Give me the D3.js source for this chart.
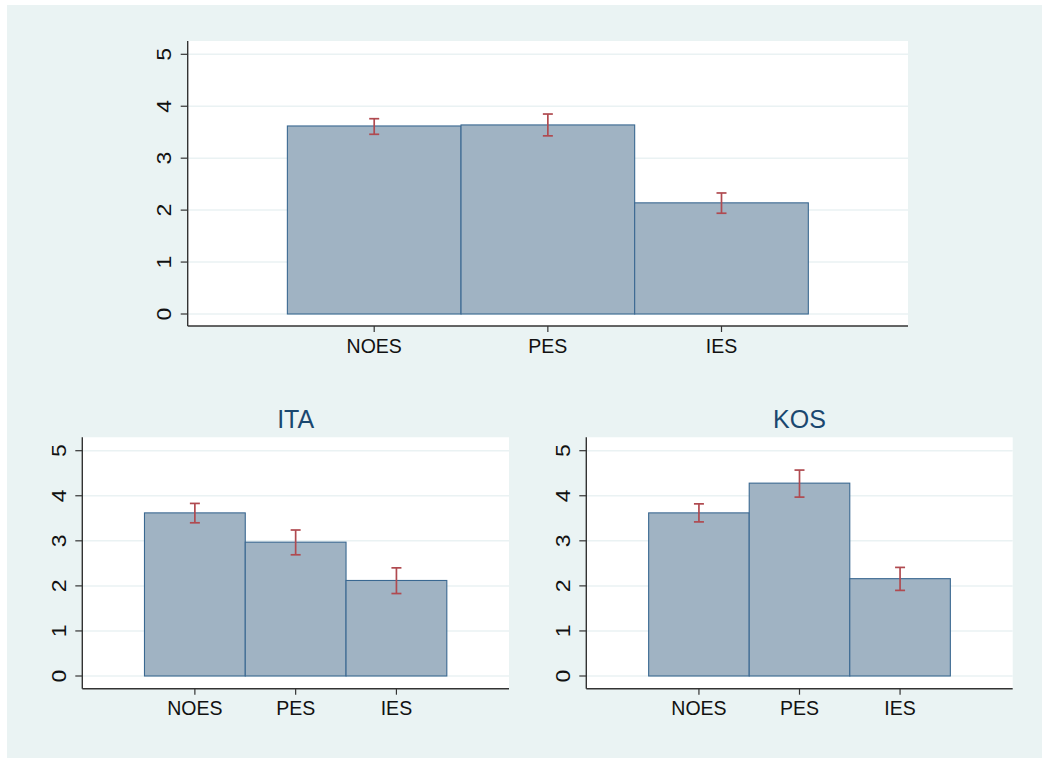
<!DOCTYPE html>
<html>
<head>
<meta charset="utf-8">
<script src="https://cdn.jsdelivr.net/npm/d3@7"></script>
<style>
  html, body { margin: 0; padding: 0; background: #ffffff; }
  svg { display: block; }
  text { font-family: "Liberation Sans", Arial, Helvetica, sans-serif; }
</style>
</head>
<body>
<svg id="chart" width="1042" height="759"></svg>
<script>
// Exposure categories on the x axis
const categories = ["NOES", "PES", "IES"];
const yTicks = [0, 1, 2, 3, 4, 5];

// Pooled sample: mean and 95% CI bounds
const pooledMean = [3.62, 3.64, 2.14];
const pooledLow  = [3.46, 3.43, 1.94];
const pooledHigh = [3.76, 3.85, 2.33];

// Italy
const itaMean = [3.62, 2.97, 2.12];
const itaLow  = [3.40, 2.69, 1.83];
const itaHigh = [3.83, 3.24, 2.40];

// Kosovo
const kosMean = [3.62, 4.28, 2.16];
const kosLow  = [3.42, 3.97, 1.90];
const kosHigh = [3.82, 4.57, 2.41];

const svg = d3.select("#chart");

// graph region background
svg.append("rect").attr("x", 7).attr("y", 5).attr("width", 1035).attr("height", 753)
  .attr("fill", "#eaf3f3");

const panels = [
  { title: null, mean: pooledMean, low: pooledLow, high: pooledHigh,
    left: 187.7, right: 908, top: 41, bottom: 326, y0: 314, y5: 54.3, pad: 0.574 },
  { title: "ITA", mean: itaMean, low: itaLow, high: itaHigh,
    left: 82.3, right: 509, top: 437.3, bottom: 688.7, y0: 676, y5: 450.7, pad: 0.617 },
  { title: "KOS", mean: kosMean, low: kosLow, high: kosHigh,
    left: 586.3, right: 1012.7, top: 437.3, bottom: 688.7, y0: 676, y5: 450.7, pad: 0.62 }
];

panels.forEach(p => {
  const g = svg.append("g");
  const x = d3.scaleBand().domain(categories).range([p.left, p.right])
    .paddingInner(0).paddingOuter(p.pad);
  const y = d3.scaleLinear().domain([0, 5]).range([p.y0, p.y5]);

  // plot region
  g.append("rect").attr("x", p.left).attr("y", p.top)
    .attr("width", p.right - p.left).attr("height", p.bottom - p.top)
    .attr("fill", "#ffffff");

  // horizontal grid lines
  g.selectAll(".grid").data(yTicks).join("line")
    .attr("x1", p.left).attr("x2", p.right)
    .attr("y1", d => y(d)).attr("y2", d => y(d))
    .attr("stroke", "#eaf2f3").attr("stroke-width", 1.5);

  const rows = categories.map((c, i) => ({ c, m: p.mean[i], lo: p.low[i], hi: p.high[i] }));

  // bars
  g.selectAll(".bar").data(rows).join("rect")
    .attr("x", d => x(d.c)).attr("width", x.bandwidth())
    .attr("y", d => y(d.m)).attr("height", d => y(0) - y(d.m))
    .attr("fill", "#a0b3c3").attr("stroke", "#3a6891").attr("stroke-width", 1.1);

  // confidence intervals
  const ci = g.selectAll(".ci").data(rows).join("g")
    .attr("stroke", "#b04a50").attr("stroke-width", 1.7).attr("fill", "none");
  const cx = d => x(d.c) + x.bandwidth() / 2;
  ci.append("line").attr("x1", cx).attr("x2", cx)
    .attr("y1", d => y(d.lo)).attr("y2", d => y(d.hi));
  ci.append("line").attr("x1", d => cx(d) - 5).attr("x2", d => cx(d) + 5)
    .attr("y1", d => y(d.lo)).attr("y2", d => y(d.lo));
  ci.append("line").attr("x1", d => cx(d) - 5).attr("x2", d => cx(d) + 5)
    .attr("y1", d => y(d.hi)).attr("y2", d => y(d.hi));

  // y axis
  g.append("line").attr("x1", p.left).attr("x2", p.left)
    .attr("y1", p.top).attr("y2", p.bottom)
    .attr("stroke", "#333333").attr("stroke-width", 1.4);
  g.selectAll(".ytick").data(yTicks).join("line")
    .attr("x1", p.left - 7).attr("x2", p.left)
    .attr("y1", d => y(d)).attr("y2", d => y(d))
    .attr("stroke", "#333333").attr("stroke-width", 1.2);
  g.selectAll(".ylab").data(yTicks).join("text")
    .attr("transform", d => `translate(${p.left - 16.5},${y(d)}) rotate(-90) scale(1.15,1)`)
    .attr("text-anchor", "middle")
    .attr("font-size", 20).attr("fill", "#111111")
    .text(d => d);

  // x axis
  g.append("line").attr("x1", p.left).attr("x2", p.right)
    .attr("y1", p.bottom).attr("y2", p.bottom)
    .attr("stroke", "#333333").attr("stroke-width", 1.4);
  g.selectAll(".xtick").data(categories).join("line")
    .attr("x1", d => x(d) + x.bandwidth() / 2).attr("x2", d => x(d) + x.bandwidth() / 2)
    .attr("y1", p.bottom).attr("y2", p.bottom + 6)
    .attr("stroke", "#333333").attr("stroke-width", 1.2);
  g.selectAll(".xlab").data(categories).join("text")
    .attr("x", d => x(d) + x.bandwidth() / 2).attr("y", p.bottom + 26.5)
    .attr("text-anchor", "middle")
    .attr("font-size", 19.5).attr("fill", "#111111")
    .text(d => d);

  if (p.title) {
    g.append("text")
      .attr("x", (p.left + p.right) / 2).attr("y", p.top - 9)
      .attr("text-anchor", "middle")
      .attr("font-size", 25).attr("fill", "#1a476f")
      .text(p.title);
  }
});
</script>
</body>
</html>
